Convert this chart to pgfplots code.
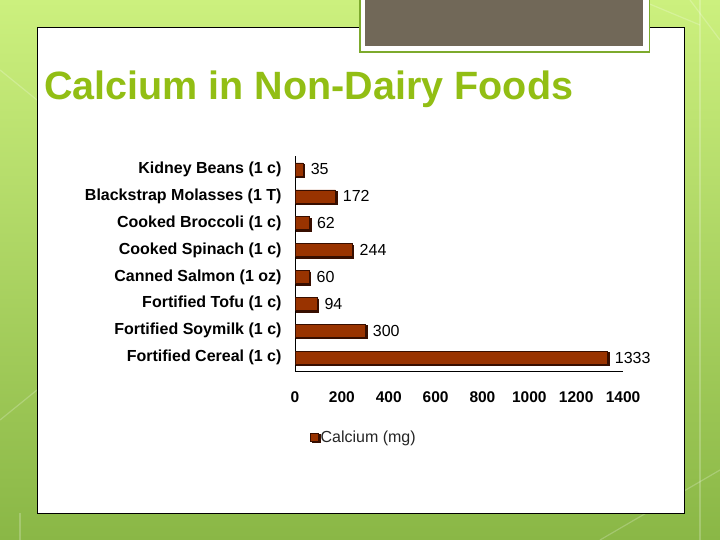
\documentclass[border=0pt]{standalone}
\usepackage{pgfplots}
\pgfplotsset{compat=1.18}
\usepackage{fontspec}
\setmainfont{Liberation Sans}

\definecolor{titlegreen}{RGB}{146,190,20}
\definecolor{barfill}{RGB}{153,51,0}
\definecolor{barshadow}{RGB}{55,14,0}
\definecolor{boxgray}{RGB}{113,104,88}
\definecolor{boxline}{RGB}{125,170,45}
\definecolor{bgtop}{RGB}{204,240,126}
\definecolor{bgbot}{RGB}{138,183,70}

\begin{document}
\begin{tikzpicture}[x=1bp,y=1bp]
\useasboundingbox (0,0) rectangle (720,540);
% slide background
\shade[top color=bgtop, bottom color=bgbot] (0,0) rectangle (720,540);
\begin{scope}[white, opacity=0.22, line width=1.2bp]
  \draw (0,470) -- (37,440);
  \draw (0,120) -- (37,150);
  \draw (20,0) -- (20,27);
  \draw (600,0) -- (720,70);
  \draw (690,540) -- (720,500);
  \draw (700,0) -- (700,540);
  \draw (640,540) -- (700,515);
\end{scope}
\fill[white, draw=black, line width=0.8bp] (37,27) rectangle (684,513);
% gray box at the top
\fill[boxline] (359,487) rectangle (650,541);
\fill[white] (360.5,488.5) rectangle (648.5,541);
\fill[boxgray] (365,494) rectangle (643,541);
% title
\node[anchor=base west, inner sep=0, text=titlegreen,
      font=\bfseries\fontsize{39.5bp}{42bp}\selectfont] at (44,440) {Calcium in Non-Dairy Foods};

\begin{axis}[
  scale only axis,
  width=328bp, height=215bp,
  anchor=south west, at={(295bp,169bp)},
  xbar, bar width=13bp,
  xmin=0, xmax=1400, ymin=-0.5, ymax=7.5,
  axis x line*=bottom, axis y line*=left,
  axis line style={black, line width=0.8bp},
  major tick length=0,
  clip=false,
  xtick={0,200,...,1400},
  ytick={0,...,7},
  yticklabels={Fortified Cereal (1 c), Fortified Soymilk (1 c), Fortified Tofu (1 c),
    Canned Salmon (1 oz), Cooked Spinach (1 c), Cooked Broccoli (1 c),
    Blackstrap Molasses (1 T), Kidney Beans (1 c)},
  /pgf/number format/assume math mode=true,
  /pgf/number format/1000 sep={},
  xticklabel style={font=\bfseries\fontsize{15.5bp}{17bp}\selectfont, yshift=-17bp},
  yticklabel style={font=\bfseries\fontsize{16bp}{18bp}\selectfont, xshift=-10bp},
  nodes near coords,
  nodes near coords style={font=\fontsize{16bp}{18bp}\selectfont, anchor=west, xshift=4bp, text=black},
  legend style={at={(0.045,-0.307)}, anchor=west, draw=none, fill=none,
    font=\fontsize{16bp}{18bp}\selectfont, text=black!85, inner sep=0pt},
  legend image code/.code={\draw[fill=barfill, draw=barshadow, line width=0.6bp] (0bp,-4bp) rectangle (8bp,4bp);},
]
\addplot[fill=barfill, draw=barshadow, line width=0.5bp,
  preaction={fill=barshadow, transform canvas={xshift=1.5bp, yshift=-1.5bp}}]
  coordinates {(1333,0) (300,1) (94,2) (60,3) (244,4) (62,5) (172,6) (35,7)};
\legend{Calcium (mg)}
\end{axis}
\end{tikzpicture}
\end{document}
